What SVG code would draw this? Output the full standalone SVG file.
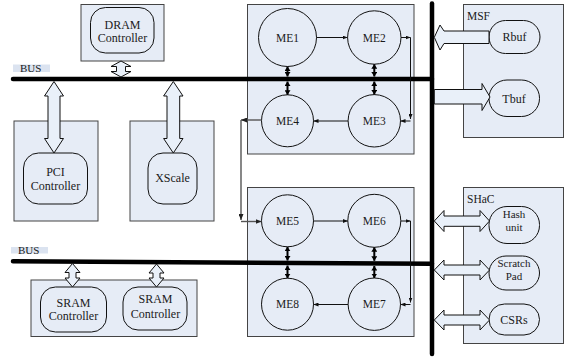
<svg xmlns="http://www.w3.org/2000/svg" width="564" height="358" viewBox="0 0 564 358" font-family="'Liberation Serif','Times New Roman',serif">
<style>
text{font-family:"Liberation Serif","Times New Roman",serif;font-size:12px;fill:#1a1a1a;text-anchor:middle;stroke:none}
.box{fill:#e6ecf6;stroke:#444;stroke-width:1}
.ir{fill:#e6ecf6;stroke:#111;stroke-width:1}
.me{fill:#e6ecf6;stroke:#111;stroke-width:1}
.blk{fill:#e9f0f9;stroke:#111;stroke-width:1;stroke-linejoin:miter}
.bus{stroke:#000;stroke-width:4.5;stroke-linecap:round;fill:none}
.c{stroke:#111;stroke-width:1;fill:none}
.g{stroke:#555;stroke-width:1.4;fill:none}
.d{stroke:#000;stroke-width:2;fill:none}
.lbl{fill:#dbe3f0}
.lt{text-anchor:start;font-size:11.5px}
.sm{font-size:11px}
.mt{font-size:11.5px}
</style>
<defs>
<marker id="a" viewBox="0 0 8 8" refX="8" refY="4" markerWidth="5" markerHeight="4" preserveAspectRatio="none" orient="auto" markerUnits="userSpaceOnUse"><path d="M0,0 L8,4 L0,8 z" fill="#111"/></marker>
<marker id="ag" viewBox="0 0 8 8" refX="8" refY="4" markerWidth="6" markerHeight="5" preserveAspectRatio="none" orient="auto" markerUnits="userSpaceOnUse"><path d="M0,0 L8,4 L0,8 z" fill="#222"/></marker>
<marker id="ad" viewBox="0 0 8 8" refX="8" refY="4" markerWidth="4.5" markerHeight="6" preserveAspectRatio="none" orient="auto-start-reverse" markerUnits="userSpaceOnUse"><path d="M0,0 L8,4 L0,8 z" fill="#000"/></marker>
</defs>

<!-- ME boxes -->
<g id="me-box-top"><rect class="box" x="247.5" y="4.5" width="166.5" height="149.5"/></g>
<g id="me-box-bottom"><rect class="box" x="247.5" y="187.5" width="166.5" height="149"/></g>

<!-- DRAM -->
<g id="dram">
<rect class="box" x="81" y="4.5" width="83" height="56.5"/>
<rect class="ir" x="90.5" y="7.5" width="63.5" height="45.5" rx="15"/>
<text x="122.5" y="28.5">DRAM</text>
<text x="122.5" y="42">Controller</text>
</g>

<!-- PCI -->
<g id="pci">
<rect class="box" x="14" y="121" width="84" height="100"/>
<rect class="ir" x="23.5" y="153" width="64" height="51" rx="15"/>
<text x="55.5" y="176">PCI</text>
<text x="55.5" y="190">Controller</text>
</g>

<!-- XScale -->
<g id="xscale">
<rect class="box" x="130" y="121" width="84" height="100"/>
<rect class="ir" x="148" y="153" width="49" height="51" rx="15"/>
<text x="172.5" y="182">XScale</text>
</g>

<!-- SRAM -->
<g id="sram">
<rect class="box" x="31" y="280" width="166" height="56.5"/>
<rect class="ir" x="40.5" y="287" width="66" height="45" rx="15"/>
<text x="73.5" y="306.5">SRAM</text>
<text x="73.5" y="320">Controller</text>
<rect class="ir" x="123" y="287" width="64" height="43" rx="15"/>
<text x="155.5" y="303">SRAM</text>
<text x="155.5" y="318">Controller</text>
</g>

<!-- MSF -->
<g id="msf">
<rect class="box" x="463.5" y="4.5" width="100" height="133"/>
<text class="lt" x="467" y="20">MSF</text>
<rect class="ir" x="489" y="20.5" width="51" height="33" rx="16.5"/>
<text x="514.5" y="40.5">Rbuf</text>
<rect class="ir" x="489" y="80" width="50.5" height="36.5" rx="18"/>
<text x="514" y="102.5">Tbuf</text>
</g>

<!-- SHaC -->
<g id="shac">
<rect class="box" x="463.5" y="187.5" width="100" height="156"/>
<text class="lt" x="467" y="202.5">SHaC</text>
<rect class="ir" x="489" y="206.5" width="50.5" height="37" rx="18"/>
<text class="sm" x="514" y="218">Hash</text>
<text class="sm" x="514" y="230.5">unit</text>
<rect class="ir" x="489" y="256" width="50.5" height="34" rx="17"/>
<text class="sm" x="514" y="267">Scratch</text>
<text class="sm" x="514" y="279.5">Pad</text>
<rect class="ir" x="489" y="304" width="50.5" height="31" rx="15.5"/>
<text x="514" y="323.5">CSRs</text>
</g>

<!-- bus labels -->
<g id="bus-label-1"><rect class="lbl" x="13" y="64.5" width="37" height="7.5"/><text class="lt" x="20" y="72" style="font-size:11px">BUS</text></g>
<g id="bus-label-2"><rect class="lbl" x="11" y="247" width="37" height="6.5"/><text class="lt" x="18" y="253.5" style="font-size:11px">BUS</text></g>

<!-- buses -->
<g id="buses">
<line class="bus" x1="13" y1="79" x2="432" y2="79"/>
<line class="bus" x1="13" y1="261.3" x2="432" y2="263.7"/>
<line class="bus" x1="432" y1="3.5" x2="432" y2="354"/>
</g>

<!-- ME nodes -->
<g id="me1"><circle class="me" cx="287.5" cy="37.5" r="29"/><text class="mt" x="287.5" y="41.5">ME1</text></g>
<g id="me2"><circle class="me" cx="374.3" cy="37.5" r="26.7"/><text class="mt" x="374.3" y="41.5">ME2</text></g>
<g id="me3"><circle class="me" cx="374.3" cy="120.8" r="26.2"/><text class="mt" x="374.3" y="124.8">ME3</text></g>
<g id="me4"><circle class="me" cx="287.5" cy="120.8" r="26"/><text class="mt" x="287.5" y="124.8">ME4</text></g>
<g id="me5"><circle class="me" cx="287.5" cy="220.8" r="26"/><text class="mt" x="287.5" y="224.8">ME5</text></g>
<g id="me6"><circle class="me" cx="374.3" cy="220.8" r="26.5"/><text class="mt" x="374.3" y="224.8">ME6</text></g>
<g id="me7"><circle class="me" cx="374.3" cy="304.2" r="26.2"/><text class="mt" x="374.3" y="308.2">ME7</text></g>
<g id="me8"><circle class="me" cx="287.5" cy="304.2" r="26"/><text class="mt" x="287.5" y="308.2">ME8</text></g>

<!-- connectors -->
<g id="connectors">
<polygon class="blk" points="121,61 131,66.5 125.5,66.5 125.5,71.5 131,71.5 121,77 111,71.5 116.5,71.5 116.5,66.5 111,66.5"/>
<polygon class="blk" points="54,81.5 63.5,96 60,96 60,138.5 63.5,138.5 54,153 44.5,138.5 48,138.5 48,96 44.5,96"/>
<polygon class="blk" points="173.3,81.5 183,96 179.7,96 179.7,138.5 183,138.5 173.3,153 163.6,138.5 167,138.5 167,96 163.6,96"/>
<polygon class="blk" points="72.5,263.5 80,272.5 76,272.5 76,278 80,278 72.5,287 65,278 69,278 69,272.5 65,272.5"/>
<polygon class="blk" points="156.5,264 164,273 160,273 160,278 164,278 156.5,287 149,278 153,278 153,273 149,273"/>
<polygon class="blk" points="434.3,37.3 440,25 444,31 489,31 489,43.5 444,43.5 440,50"/>
<polygon class="blk" points="434.3,89.5 482,89.5 482,83.5 490,97 482,110.5 482,104 434.3,104"/>
<polygon class="blk" points="434.3,221 444,210.5 444,216 480,216 480,210.5 489.5,221 480,231.5 480,226.3 444,226.3 444,231.5"/>
<polygon class="blk" points="434.3,270 444,260 444,265 480,265 480,260 489.5,270 480,280 480,275 444,275 444,280"/>
<polygon class="blk" points="434.3,320 444,310 444,315 480,315 480,310 489.5,320 480,330 480,325 444,325 444,330"/>

<line class="c" x1="316.5" y1="37.5" x2="347.6" y2="37.5" marker-end="url(#a)"/>
<line class="c" x1="401" y1="37.5" x2="410.5" y2="37.5" marker-end="url(#a)"/>
<line class="c" x1="410.5" y1="37.5" x2="410.5" y2="119" marker-end="url(#a)"/>
<line class="c" x1="410.5" y1="121" x2="400.5" y2="121" marker-end="url(#a)"/>
<line class="c" x1="348" y1="121" x2="313.5" y2="121" marker-end="url(#a)"/>
<line class="g" x1="261.5" y1="120" x2="241" y2="120" marker-end="url(#ag)"/>
<line class="g" x1="241" y1="120" x2="241" y2="220" marker-end="url(#ag)"/>
<line class="g" x1="241" y1="221.5" x2="261.5" y2="221.5" marker-end="url(#ag)"/>
<line class="c" x1="313.5" y1="221" x2="347.8" y2="221" marker-end="url(#a)"/>
<line class="c" x1="401" y1="221" x2="410.5" y2="221" marker-end="url(#a)"/>
<line class="c" x1="410.5" y1="221" x2="410.5" y2="302.5" marker-end="url(#a)"/>
<line class="c" x1="410.5" y1="304.5" x2="400.5" y2="304.5" marker-end="url(#a)"/>
<line class="c" x1="348" y1="304.5" x2="313.5" y2="304.5" marker-end="url(#a)"/>

<line class="d" x1="287.5" y1="66.5" x2="287.5" y2="76.5" marker-start="url(#ad)" marker-end="url(#ad)"/>
<line class="d" x1="287.5" y1="81.5" x2="287.5" y2="94.8" marker-start="url(#ad)" marker-end="url(#ad)"/>
<line class="d" x1="374.3" y1="64.2" x2="374.3" y2="76.5" marker-start="url(#ad)" marker-end="url(#ad)"/>
<line class="d" x1="374.3" y1="81.5" x2="374.3" y2="94.6" marker-start="url(#ad)" marker-end="url(#ad)"/>
<line class="d" x1="287.5" y1="246.8" x2="287.5" y2="260.5" marker-start="url(#ad)" marker-end="url(#ad)"/>
<line class="d" x1="287.5" y1="265.5" x2="287.5" y2="278.2" marker-start="url(#ad)" marker-end="url(#ad)"/>
<line class="d" x1="374.3" y1="247.3" x2="374.3" y2="260.8" marker-start="url(#ad)" marker-end="url(#ad)"/>
<line class="d" x1="374.3" y1="266" x2="374.3" y2="278" marker-start="url(#ad)" marker-end="url(#ad)"/>
</g>
</svg>
